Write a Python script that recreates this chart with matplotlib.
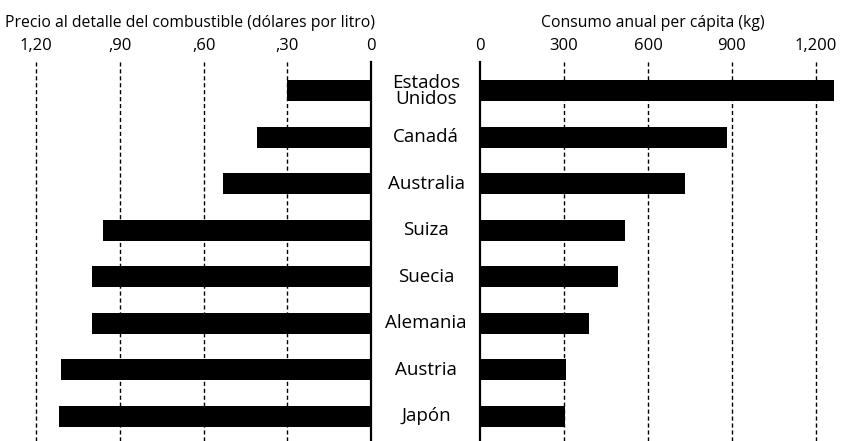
import matplotlib
matplotlib.use("Agg")
import matplotlib.pyplot as plt
from matplotlib.transforms import blended_transform_factory

countries = ["Estados\nUnidos", "Canadá", "Australia", "Suiza", "Suecia", "Alemania", "Austria", "Japón"]
price = [0.30, 0.41, 0.53, 0.96, 1.00, 1.00, 1.11, 1.12]
consumption = [1265, 883, 732, 518, 494, 389, 306, 305]

price_ticks = [1.20, 0.90, 0.60, 0.30, 0.0]
price_labels = ["1,20", ",90", ",60", ",30", "0"]
cons_ticks = [0, 300, 600, 900, 1200]
cons_labels = ["0", "300", "600", "900", "1,200"]

plt.rcParams['font.family'] = ['Open Sans', 'DejaVu Sans']

W, H = 843, 441
fig = plt.figure(figsize=(W / 100, H / 100), dpi=100)

top_px = 62
ax_h = (H - top_px) / H
axL = fig.add_axes([0.0, 0.0, 371 / W, ax_h])
axR = fig.add_axes([480 / W, 0.0, (W - 480) / W, ax_h])

ypos = list(range(len(countries)))
ylim = (7.53, -0.62)

axL.barh(ypos, price, height=0.45, color="black", zorder=3)
axL.set_xlim(371 / 279, 0)
axR.barh(ypos, consumption, height=0.45, color="black", zorder=3)
axR.set_xlim(0, (W - 480) / 0.28)

for ax, ticks, labels, zero_side in [(axL, price_ticks, price_labels, "right"),
                                      (axR, cons_ticks, cons_labels, "left")]:
    ax.set_ylim(*ylim)
    ax.set_yticks([])
    for s in ax.spines.values():
        s.set_visible(False)
    ax.spines[zero_side].set_visible(True)
    ax.spines[zero_side].set_linewidth(1.6)
    ax.spines[zero_side].set_zorder(4)
    ax.xaxis.tick_top()
    ax.set_xticks(ticks)
    ax.set_xticklabels(labels, fontsize=12)
    ax.tick_params(axis="x", length=0, pad=6)
    for t in ticks:
        if t != 0:
            ax.axvline(t, color="black", lw=1.0, linestyle=(0, (3, 2)), zorder=1)
    ax.set_facecolor("none")

fig.text(190 / W, 1 - 23 / H, "Precio al detalle del combustible (dólares por litro)",
         ha="center", va="center", fontsize=11.3)
fig.text(653 / W, 1 - 23 / H, "Consumo anual per cápita (kg)",
         ha="center", va="center", fontsize=11.3)

tr = blended_transform_factory(fig.transFigure, axR.transData)
for y, c in zip(ypos, countries):
    axR.text(426 / W, y, c, transform=tr, ha="center", va="center", fontsize=13.5,
             linespacing=0.85, clip_on=False)

fig.savefig("out.png", dpi=100)
